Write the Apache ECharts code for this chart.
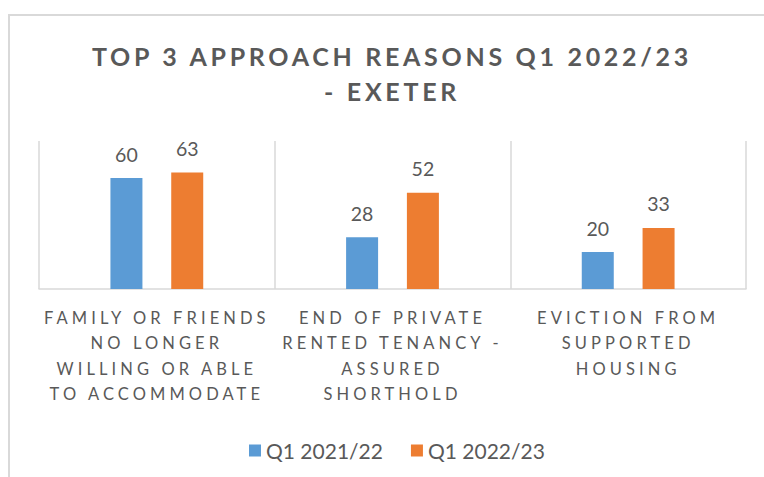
<!DOCTYPE html>
<html>
<head>
<meta charset="utf-8">
<script src="https://cdn.jsdelivr.net/npm/echarts@6/dist/echarts.min.js"></script>
<style>
  html, body { margin: 0; padding: 0; background: #fff; }
  #chart { width: 764px; height: 477px; }
</style>
</head>
<body>
<div id="chart"></div>
<script>
// categories as shown on the axis (wrapped like the original)
const categories = [
  'FAMILY OR FRIENDS\nNO LONGER\nWILLING OR ABLE\nTO ACCOMMODATE',
  'END OF PRIVATE\nRENTED TENANCY -\nASSURED\nSHORTHOLD',
  'EVICTION FROM\nSUPPORTED\nHOUSING'
];
const seriesNames = ['Q1 2021/22', 'Q1 2022/23'];
const q1_2021 = [60, 28, 20];
const q1_2022 = [63, 52, 33];

const chart = echarts.init(document.getElementById('chart'), null, { renderer: 'svg' });

const labelStyle = {
  show: true,
  position: 'top',
  distance: 14,
  color: '#595959',
  fontFamily: 'Lato',
  fontSize: 19.5
};

chart.setOption({
  animation: false,
  backgroundColor: '#fff',
  graphic: [{
    type: 'rect',
    shape: { x: 9, y: 15, width: 800, height: 500 },
    style: { fill: 'none', stroke: '#d9d9d9', lineWidth: 2 },
    silent: true
  }],
  title: {
    text: 'TOP 3 APPROACH REASONS Q1 2022/23\n- EXETER',
    left: 387,
    textAlign: 'center',
    top: 33,
    textStyle: {
      fontFamily: 'Lato',
      fontWeight: 'bold',
      fontSize: 25,
      lineHeight: 35,
      color: '#595959'
    }
  },
  legend: {
    data: seriesNames,
    left: 244,
    top: 435,
    itemWidth: 12,
    itemHeight: 12,
    itemGap: 28,
    icon: 'rect',
    textStyle: { fontFamily: 'Lato', fontSize: 21, color: '#595959' }
  },
  grid: { left: 39, right: 18, top: 141, bottom: 188 },
  xAxis: {
    type: 'category',
    data: categories,
    axisLine: { lineStyle: { color: '#d9d9d9', width: 1.5 } },
    axisTick: { show: false },
    splitLine: { show: true, interval: 0, lineStyle: { color: '#d9d9d9', width: 1.5 } },
    axisLabel: {
      interval: 0,
      margin: 16,
      fontFamily: 'Lato',
      fontSize: 16.5,
      lineHeight: 25.5,
      color: '#595959'
    }
  },
  yAxis: {
    type: 'value',
    min: 0,
    max: 80,
    show: false,
    splitLine: { show: false }
  },
  series: [
    {
      name: seriesNames[0],
      type: 'bar',
      data: q1_2021,
      barWidth: 32,
      barGap: '90%',
      itemStyle: { color: '#5B9BD5' },
      label: labelStyle
    },
    {
      name: seriesNames[1],
      type: 'bar',
      data: q1_2022,
      barWidth: 32,
      itemStyle: { color: '#ED7D31' },
      label: labelStyle
    }
  ]
});

// spaced capitals like the original office chart
function spaceLetters() {
  const texts = document.querySelectorAll('#chart text, #chart tspan');
  texts.forEach(function (t) {
    const s = t.textContent;
    if (/APPROACH|EXETER/.test(s)) {
      t.style.letterSpacing = '3.7px';
    } else if (/^[A-Z \-]+$/.test(s) && s.length > 3) {
      t.style.letterSpacing = '4.1px';
    }
  });
}
chart.on('finished', spaceLetters);
setTimeout(spaceLetters, 50);
</script>
</body>
</html>
